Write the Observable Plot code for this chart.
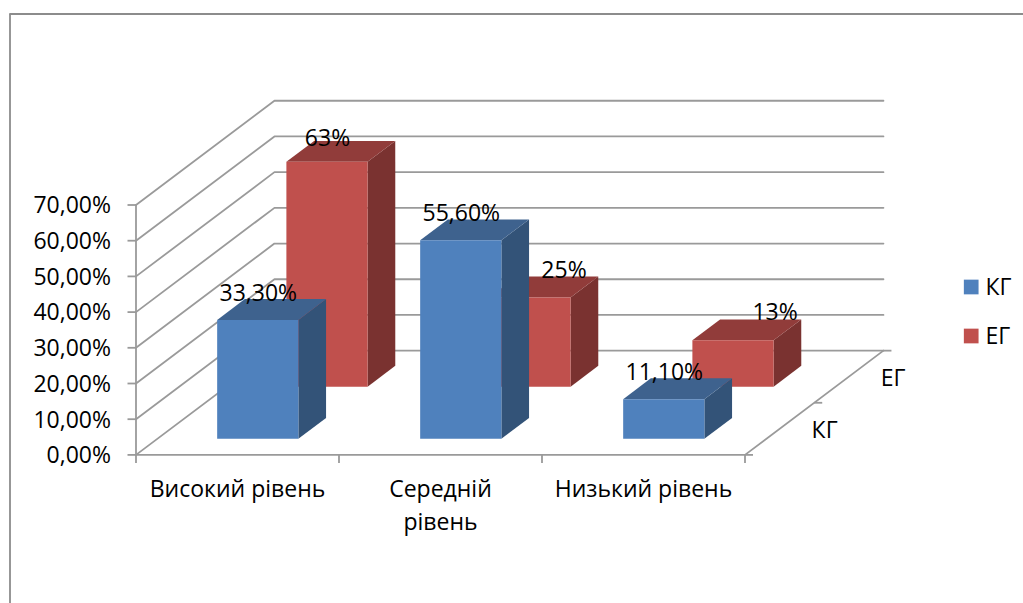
<!DOCTYPE html>
<html><head><meta charset="utf-8">
<script src="https://cdn.jsdelivr.net/npm/d3@7"></script>
<script src="https://cdn.jsdelivr.net/npm/@observablehq/plot@0.6"></script>
<style>html,body{margin:0;padding:0;background:#fff}svg{display:block}</style>
</head><body><div id="chart"></div>
<script>
const categories = ["Високий рівень", "Середній\nрівень", "Низький рівень"];
const seriesNames = ["КГ", "ЕГ"];
const kgValues = [33.3, 55.6, 11.1];
const egValues = [63, 25, 13];
const kgLabels = ["33,30%", "55,60%", "11,10%"];
const egLabels = ["63%", "25%", "13%"];
const egLabelShift = [0, 0.165, 0.205];
const egLabelLift = [-0.8, 0, 0.4];
const yTicks = [0, 10, 20, 30, 40, 50, 60, 70];
const yTickLabels = ["0,00%", "10,00%", "20,00%", "30,00%", "40,00%", "50,00%", "60,00%", "70,00%"];
const colors = {КГ: {front: "#4f81bd", side: "#335378", top: "#3e628e"}, ЕГ: {front: "#c0504d", side: "#7a3230", top: "#913c3a"}};
const gridColor = "#9a9a9a";

// oblique projection: one unit of depth shifts a point in category and value units
const depthX = 0.682, depthY = 29.2;
const pxX = 203, pxY = 3.57, originX = 135.5, originY = 454.4;
const W = 1023, H = 603;
const px = (u, d = 0) => u + d * depthX;
const py = (v, d = 0) => v + d * depthY;

const barWidth = 0.4, barDepth = 0.2;
function bar(cat, serie, value) {
  const u0 = cat + 0.3, u1 = u0 + barWidth;
  const d0 = serie * 0.5 + 0.15, d1 = d0 + barDepth;
  const id = `${serie}-${cat}`, c = colors[seriesNames[serie]];
  return {
    front: [{id, x: px(u0, d0), y1: py(0, d0), y2: py(value, d0)}, {id, x: px(u1, d0), y1: py(0, d0), y2: py(value, d0)}],
    side: [{id, x: px(u1, d0), y1: py(0, d0), y2: py(value, d0)}, {id, x: px(u1, d1), y1: py(0, d1), y2: py(value, d1)}],
    top: [{id, y: py(value, d0), x1: px(u0, d0), x2: px(u1, d0)}, {id, y: py(value, d1), x1: px(u0, d1), x2: px(u1, d1)}],
    c
  };
}
function barMarks(b) {
  return [
    Plot.areaY(b.side, {x: "x", y1: "y1", y2: "y2", z: "id", fill: b.c.side}),
    Plot.areaX(b.top, {y: "y", x1: "x1", x2: "x2", z: "id", fill: b.c.top}),
    Plot.areaY(b.front, {x: "x", y1: "y1", y2: "y2", z: "id", fill: b.c.front})
  ];
}
const wall = yTicks.flatMap(v => [
  {v, x: px(0, 0), y: py(v, 0)}, {v, x: px(0, 1), y: py(v, 1)}, {v, x: px(3, 1), y: py(v, 1)}
]);
const floorEdge = [{x: px(0, 0), y: py(0, 0)}, {x: px(3, 0), y: py(0, 0)}, {x: px(3, 1), y: py(0, 1)}];
const valueAxis = [{x: px(0), y: 0}, {x: px(0), y: 70}];
const lineStyle = {stroke: gridColor, strokeWidth: 1.8};
const textStyle = {fontSize: 23, fill: "#000", stroke: "none"};
const tickSymbol = (dx, dy) => ({draw(ctx) { ctx.moveTo(0, 0); ctx.lineTo(dx, dy); }});

const plot = Plot.plot({
  width: W, height: H, margin: 0,
  style: {fontFamily: "'Open Sans', sans-serif", background: "#fff"},
  x: {type: "linear", domain: [-originX / pxX, (W - originX) / pxX], range: [0, W], axis: null},
  y: {type: "linear", domain: [(originY - H) / pxY, originY / pxY], range: [H, 0], axis: null},
  marks: [
    // chart frame
    Plot.ruleX([-originX / pxX], {dx: 9.5, stroke: "#8c8c8c", strokeWidth: 1.8, y1: (originY - H) / pxY, y2: (originY - 13.5) / pxY}),
    Plot.ruleY([(originY - 13.5) / pxY], {x1: (9.5 - originX) / pxX, x2: (W - originX) / pxX, stroke: "#8c8c8c", strokeWidth: 1.8}),
    // walls and floor
    Plot.line(wall, {x: "x", y: "y", z: "v", ...lineStyle}),
    Plot.line(floorEdge, {x: "x", y: "y", ...lineStyle}),
    Plot.line(valueAxis, {x: "x", y: "y", ...lineStyle}),
    // ticks
    Plot.dot(yTicks, {x: () => px(0), y: d => d, symbol: tickSymbol(-8.5, 0), ...lineStyle}),
    Plot.dot([0, 1, 2, 3], {x: d => px(d), y: () => 0, symbol: tickSymbol(0, 8), ...lineStyle}),
    Plot.dot([0, 0.5, 1], {x: d => px(3, d), y: d => py(0, d), symbol: tickSymbol(8, 0), ...lineStyle}),
    // bars, back to front
    ...egValues.flatMap((v, i) => barMarks(bar(i, 1, v))),
    ...kgValues.flatMap((v, i) => barMarks(bar(i, 0, v))),
    // data labels
    Plot.text(egValues, {x: (d, i) => px(i + 0.5 + egLabelShift[i], 0.65), y: (d, i) => py(d + egLabelLift[i], 0.85), text: (d, i) => egLabels[i], dy: -6, ...textStyle}),
    Plot.text(kgValues, {x: (d, i) => px(i + 0.5, 0.15), y: d => py(d, 0.35), text: (d, i) => kgLabels[i], dy: -6, ...textStyle}),
    // value axis labels
    Plot.text(yTicks, {x: () => px(0), y: d => d, text: (d, i) => yTickLabels[i], textAnchor: "end", dx: -25, dy: 1, ...textStyle}),
    // category labels
    Plot.text(categories, {x: (d, i) => px(i + 0.5), y: () => 0, text: d => d, lineAnchor: "top", dy: 18, lineHeight: 1.45, ...textStyle}),
    // depth labels
    Plot.text(seriesNames, {x: (d, i) => px(3, i * 0.5 + 0.25), y: (d, i) => py(0, i * 0.5 + 0.25), text: d => d, textAnchor: "start", dx: 32, dy: 2, ...textStyle}),
    // legend
    ...seriesNames.flatMap((s, i) => [
      Plot.dot([s], {frameAnchor: "top-left", dx: 970.7, dy: 286.5 + i * 49, symbol: "square", r: 8.3, fill: colors[s].front}),
      Plot.text([s], {frameAnchor: "top-left", dx: 985, dy: 287.5 + i * 49, lineAnchor: "middle", text: d => d, textAnchor: "start", ...textStyle})
    ])
  ]
});
document.getElementById("chart").append(plot);
</script></body></html>
